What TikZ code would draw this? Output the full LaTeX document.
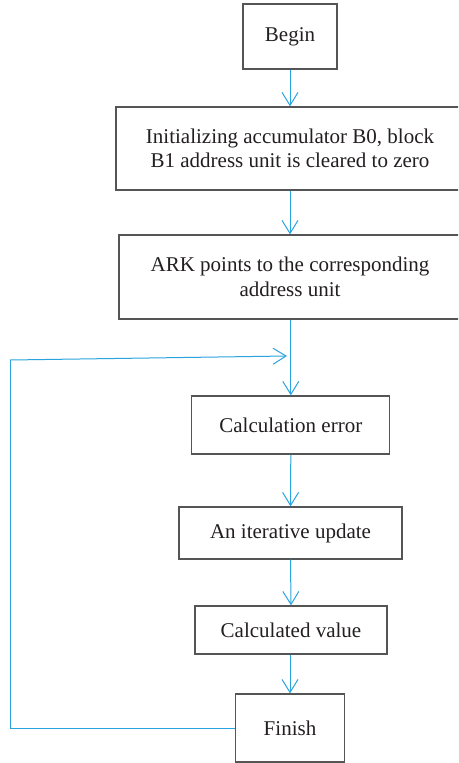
\documentclass[tikz,border=0pt]{standalone}
\usepackage{fontspec}
\setmainfont{Liberation Serif}
\usetikzlibrary{arrows.meta}
\definecolor{boxline}{HTML}{555555}
\definecolor{txt}{HTML}{231F20}
\definecolor{flow}{HTML}{2AA4DE}
\tikzset{
  stepbox/.style={draw=boxline, line width=1.3pt, rectangle, align=center,
    text=txt, font=\fontsize{21}{24.5}\selectfont, inner sep=0pt},
  flowline/.style={draw=flow, line width=1pt,
    -{Straight Barb[length=13pt,width=16pt,line width=1pt]}},
  loopline/.style={draw=flow, line width=1pt}
}
\begin{document}
\begin{tikzpicture}[x=1pt,y=-1pt]
\useasboundingbox (0,0) rectangle (458,763);
\fill[white] (0,0) rectangle (458,763);
\begin{scope}
\clip (0,0) rectangle (458,763);
\node[stepbox, minimum width=94pt, minimum height=65pt] (begin) at (290,36.5) {Begin};
\node[stepbox, minimum width=348pt, minimum height=83pt] (init) at (290,148.5)
  {Initializing accumulator B0, block\\B1 address unit is cleared to zero};
\node[stepbox, minimum width=342pt, minimum height=84pt] (ark) at (290,277)
  {ARK points to the corresponding\\address unit};
\node[stepbox, minimum width=198pt, minimum height=58pt] (err) at (290.8,425) {Calculation error};
\node[stepbox, minimum width=223pt, minimum height=52pt] (upd) at (290.5,533) {An iterative update};
\node[stepbox, minimum width=192pt, minimum height=48pt] (val) at (291,630) {Calculated value};
\node[stepbox, minimum width=109pt, minimum height=68pt] (fin) at (290,728) {Finish};
\end{scope}
\coordinate (c1) at (10,728);
\coordinate (c2) at (10,360);
\coordinate (c3) at (287,356);
\draw[flowline] (begin.south) -- (init.north);
\draw[flowline] (init.south) -- (ark.north);
\draw[flowline] (ark.south -| err.north) -- (err.north);
\draw[flowline] (err.south) -- (upd.north);
\draw[flowline] (upd.south) -- (val.north);
\draw[flowline] (val.south -| fin.north) -- (fin.north);
\draw[loopline] (fin.west) -- (c1) -- (c2);
\draw[flowline] (c2) -- (c3);
\end{tikzpicture}
\end{document}
